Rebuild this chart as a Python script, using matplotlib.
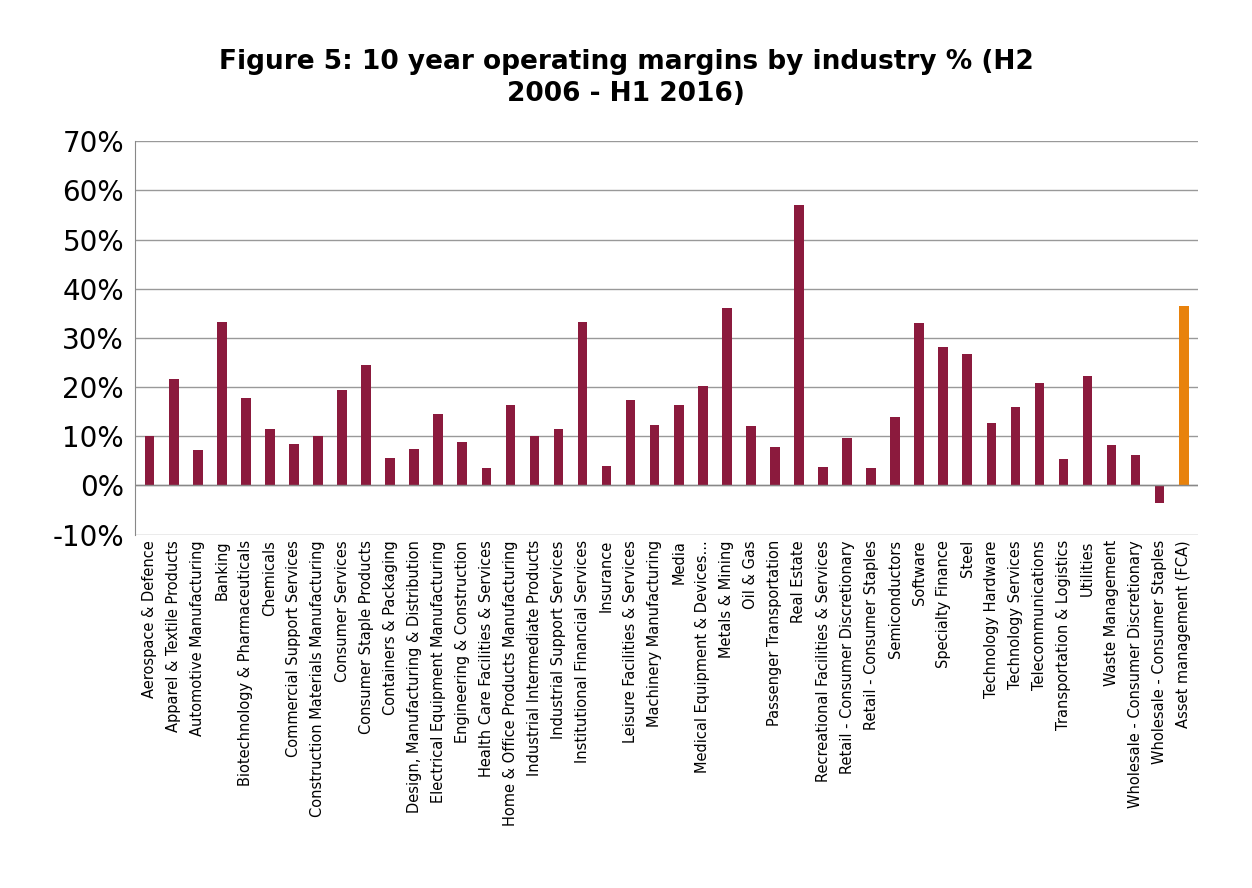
import matplotlib
matplotlib.use("Agg")
import matplotlib.pyplot as plt
import matplotlib.ticker as mt

categories = ["Aerospace & Defence","Apparel & Textile Products","Automotive Manufacturing","Banking",
"Biotechnology & Pharmaceuticals","Chemicals","Commercial Support Services","Construction Materials Manufacturing",
"Consumer Services","Consumer Staple Products","Containers & Packaging","Design, Manufacturing & Distribution",
"Electrical Equipment Manufacturing","Engineering & Construction","Health Care Facilities & Services",
"Home & Office Products Manufacturing","Industrial Intermediate Products","Industrial Support Services",
"Institutional Financial Services","Insurance","Leisure Facilities & Services","Machinery Manufacturing","Media",
"Medical Equipment & Devices...","Metals & Mining","Oil & Gas","Passenger Transportation","Real Estate",
"Recreational Facilities & Services","Retail - Consumer Discretionary","Retail - Consumer Staples","Semiconductors",
"Software","Specialty Finance","Steel","Technology Hardware","Technology Services","Telecommunications",
"Transportation & Logistics","Utilities","Waste Management","Wholesale - Consumer Discretionary",
"Wholesale - Consumer Staples","Asset management (FCA)"]
values = [10,21.7,7.2,33.2,17.7,11.4,8.5,10,19.5,24.4,5.5,7.4,14.6,8.8,3.5,16.4,10,11.5,33.3,4,17.3,12.3,16.3,20.2,
36,12.1,7.9,57,3.8,9.7,3.6,14,33,28.1,26.8,12.7,16,20.8,5.3,22.2,8.2,6.2,-3.5,36.4]

colors = ["#8B1A3D"]*(len(values)-1) + ["#E8820C"]
fig = plt.figure(figsize=(12.52,8.88), dpi=100)
ax = fig.add_axes([0.108, 0.398, 0.849, 0.443])
x = range(len(values))
ax.bar(x, values, width=0.4, color=colors, zorder=3)
ax.set_ylim(-10,70)
ax.set_xlim(-0.6, len(values)-0.4)
ax.yaxis.set_major_locator(mt.MultipleLocator(10))
ax.yaxis.set_major_formatter(mt.FuncFormatter(lambda v,p: f"{v:.0f}%"))
ax.grid(axis='y', color='#999999', lw=1, zorder=0)
ax.axhline(0, color='#888888', lw=1, zorder=4)
for s in ['top','right','bottom']:
    ax.spines[s].set_visible(False)
ax.spines['left'].set_color('#888888')
ax.tick_params(axis='y', labelsize=20, length=0, pad=8)
ax.set_xticks(list(x))
ax.set_xticklabels(categories, rotation=90, fontsize=10.5)
ax.tick_params(axis='x', length=0, pad=4)
fig.text(0.5, 0.945, "Figure 5: 10 year operating margins by industry % (H2\n2006 - H1 2016)",
         ha='center', va='top', fontsize=19, fontweight='bold', linespacing=1.3)
fig.savefig("out.png")
